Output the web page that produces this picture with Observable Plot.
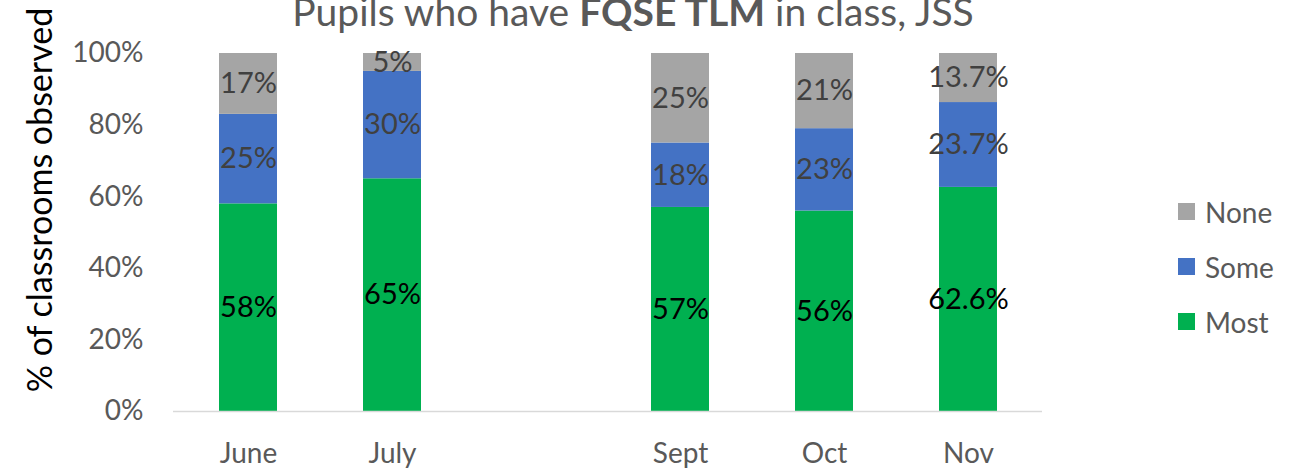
<!DOCTYPE html>
<html><head><meta charset="utf-8">
<script src="https://cdn.jsdelivr.net/npm/d3@7"></script>
<script src="https://cdn.jsdelivr.net/npm/@observablehq/plot@0.6"></script>
<style>body{margin:0;background:#fff;overflow:hidden;} svg{font-family:Lato,sans-serif;}</style>
</head><body><div id="chart"></div>
<script>
// ---- data ----
const slots = ["June", "July", "", "Sept", "Oct", "Nov"];   // x categories ("" = empty gap)
const barMonths = ["June", "July", "Sept", "Oct", "Nov"];
const seriesNames = ["Most", "Some", "None"];                // bottom -> top
const mostValues = [58, 65, 57, 56, 62.6];
const someValues = [25, 30, 18, 23, 23.7];
const noneValues = [17, 5, 25, 21, 13.7];
const yTicks = [0, 20, 40, 60, 80, 100];
const seriesColors = ["#00B050", "#4472C4", "#A5A5A5"];
const legendOrder = ["None", "Some", "Most"];
const titleParts = [["Pupils who have ", false], ["FQSE TLM", true], [" in class, JSS", false]];
const yLabel = "% of classrooms observed";

const valuesBySeries = {Most: mostValues, Some: someValues, None: noneValues};
const rows = [];
barMonths.forEach((m, i) => {
  seriesNames.forEach(s => rows.push({month: m, series: s, value: valuesBySeries[s][i]}));
});
const fmt = v => (Number.isInteger(v) ? v : v.toFixed(1)) + "%";

const chart = Plot.plot({
  width: 1294, height: 470,
  marginTop: 53, marginBottom: 59, marginLeft: 173, marginRight: 252,
  style: {fontFamily: "Lato, sans-serif", background: "#fff", color: "#595959", overflow: "visible"},
  x: {domain: slots, paddingInner: 0.6, paddingOuter: 0.3, label: null},
  y: {domain: [0, 100], label: null},
  color: {domain: seriesNames, range: seriesColors},
  marks: [
    Plot.barY(rows, {x: "month", y: "value", fill: "series", order: seriesNames}),
    Plot.text(rows, Plot.stackY({x: "month", y: "value", z: "series", order: seriesNames,
      text: d => d.series === "Most" ? fmt(d.value) : "", fill: "#000", fontSize: 29})),
    Plot.text(rows, Plot.stackY({x: "month", y: "value", z: "series", order: seriesNames,
      text: d => d.series !== "Most" ? fmt(d.value) : "", fill: "#404040", fontSize: 29})),
    Plot.ruleY([0], {stroke: "#D9D9D9", strokeWidth: 1.5}),
    Plot.axisY({ticks: yTicks, tickFormat: d => d + "%", tickSize: 0, tickPadding: 30, fontSize: 28, label: null}),
    Plot.axisX({tickSize: 0, tickPadding: 32, fontSize: 28, label: null})
  ]
});
document.getElementById("chart").appendChild(chart);

const svg = d3.select(chart);
const color = chart.scale("color");

// title
const t = svg.append("text").attr("x", 633).attr("y", 26)
  .attr("text-anchor", "middle").attr("fill", "#595959").style("font-size", "39px");
titleParts.forEach(([s, b]) => t.append("tspan").text(s).attr("font-weight", b ? "bold" : "normal"));

// y axis label
svg.append("text").attr("transform", "translate(38,200) rotate(-90)")
  .attr("text-anchor", "middle").attr("dominant-baseline", "central")
  .attr("fill", "#000").style("font-size", "34px").text(yLabel);

// legend
const lg = svg.append("g");
legendOrder.forEach((s, i) => {
  const cy = 212 + i * 55;
  lg.append("rect").attr("x", 1178).attr("y", cy - 9).attr("width", 17).attr("height", 17)
    .attr("fill", color.apply(s));
  lg.append("text").attr("x", 1205).attr("y", cy).attr("text-anchor", "start")
    .attr("dominant-baseline", "central")
    .attr("fill", "#595959").style("font-size", "28px").text(s);
});
</script>
</body></html>
